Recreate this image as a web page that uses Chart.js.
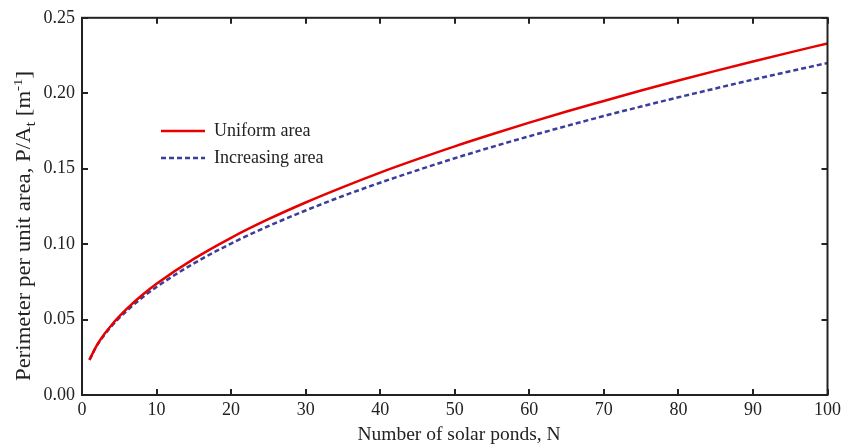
<!DOCTYPE html>
<html>
<head>
<meta charset="utf-8">
<script src="https://cdn.jsdelivr.net/npm/chart.js@4"></script>
<style>
  html, body { margin: 0; padding: 0; background: #fff; }
  #wrap { width: 845px; height: 448px; }
</style>
</head>
<body>
<div id="wrap"><canvas id="chart" width="845" height="448"></canvas></div>
<script>
// values
var pondCount = [1, 2, 3, 4, 5, 6, 8, 10, 15, 20, 25, 30, 35, 40, 45, 50, 55, 60, 65, 70, 75, 80, 85, 90, 95, 100];
var uniformArea = [0.0233, 0.0330, 0.0404, 0.0466, 0.0521, 0.0571, 0.0659, 0.0737, 0.0902, 0.1042, 0.1165, 0.1276, 0.1378, 0.1474, 0.1563, 0.1648, 0.1728, 0.1805, 0.1879, 0.1949, 0.2018, 0.2084, 0.2148, 0.2210, 0.2271, 0.2330];
var increasingArea = [0.0233, 0.0327, 0.0398, 0.0458, 0.0511, 0.0558, 0.0642, 0.0716, 0.0872, 0.1004, 0.1119, 0.1223, 0.1319, 0.1407, 0.1490, 0.1569, 0.1644, 0.1715, 0.1783, 0.1849, 0.1912, 0.1973, 0.2032, 0.2090, 0.2146, 0.2200];
var seriesNames = ['Uniform area', 'Increasing area'];
var xTitle = 'Number of solar ponds, N';

var SERIF = '"Liberation Serif", "Times New Roman", serif';
var INK = '#222';

function toPoints(ys) {
    return pondCount.map(function (n, i) { return { x: n, y: ys[i] }; });
}

// frame, inward ticks, titles and legend
var decorations = {
    id: 'decorations',
    afterDraw: function (chart) {
        var ctx = chart.ctx;
        var a = chart.chartArea;
        var xs = chart.scales.x;
        var ys = chart.scales.y;
        ctx.save();
        ctx.strokeStyle = INK;
        ctx.lineWidth = 2;
        ctx.strokeRect(a.left, a.top, a.right - a.left, a.bottom - a.top);
        var len = 6;
        ctx.beginPath();
        xs.ticks.forEach(function (t) {
            var px = Math.round(xs.getPixelForValue(t.value));
            ctx.moveTo(px, a.bottom); ctx.lineTo(px, a.bottom - len);
            ctx.moveTo(px, a.top); ctx.lineTo(px, a.top + len);
        });
        ys.ticks.forEach(function (t) {
            var py = Math.round(ys.getPixelForValue(t.value));
            ctx.moveTo(a.left, py); ctx.lineTo(a.left + len, py);
            ctx.moveTo(a.right, py); ctx.lineTo(a.right - len, py);
        });
        ctx.stroke();

        // x title
        ctx.fillStyle = INK;
        ctx.font = '19.5px ' + SERIF;
        ctx.textAlign = 'center';
        ctx.textBaseline = 'alphabetic';
        ctx.fillText(xTitle, 459, 440);

        // y title with subscript / superscript, stretched a little along its length
        var parts = [
            { t: 'Perimeter per unit area, P/A', s: 20, dy: 0 },
            { t: 't', s: 15, dy: 5 },
            { t: ' [m', s: 20, dy: 0 },
            { t: '-1', s: 13, dy: -8 },
            { t: ']', s: 20, dy: 0 }
        ];
        var total = 0;
        parts.forEach(function (p) {
            ctx.font = p.s + 'px ' + SERIF;
            p.w = ctx.measureText(p.t).width;
            total += p.w;
        });
        ctx.translate(30, 226);
        ctx.rotate(-Math.PI / 2);
        ctx.scale(310 / total, 1);
        ctx.textAlign = 'left';
        var cx = -total / 2;
        parts.forEach(function (p) {
            ctx.font = p.s + 'px ' + SERIF;
            ctx.fillText(p.t, cx, p.dy);
            cx += p.w;
        });
        ctx.restore();

        // legend
        ctx.save();
        var rows = [131, 158];
        chart.data.datasets.forEach(function (ds, i) {
            ctx.strokeStyle = ds.borderColor;
            ctx.lineWidth = ds.borderWidth;
            ctx.setLineDash(ds.borderDash || []);
            ctx.beginPath();
            ctx.moveTo(161, rows[i]);
            ctx.lineTo(205, rows[i]);
            ctx.stroke();
            ctx.setLineDash([]);
            ctx.fillStyle = INK;
            ctx.font = '18px ' + SERIF;
            ctx.textAlign = 'left';
            ctx.textBaseline = 'middle';
            ctx.fillText(ds.label, 214, rows[i]);
        });
        ctx.restore();
    }
};

var ctx = document.getElementById('chart').getContext('2d');
new Chart(ctx, {
    type: 'line',
    data: {
        datasets: [{
            label: seriesNames[0],
            data: toPoints(uniformArea),
            borderColor: '#e60000',
            borderWidth: 2.5,
            pointRadius: 0,
            cubicInterpolationMode: 'monotone',
            fill: false
        }, {
            label: seriesNames[1],
            data: toPoints(increasingArea),
            borderColor: '#3a3d9c',
            borderWidth: 2.5,
            borderDash: [5, 3],
            pointRadius: 0,
            cubicInterpolationMode: 'monotone',
            fill: false
        }]
    },
    options: {
        responsive: false,
        animation: false,
        layout: { padding: { top: 15, right: 15, left: 0, bottom: 0 } },
        plugins: { legend: { display: false }, tooltip: { enabled: false } },
        scales: {
            x: {
                type: 'linear',
                min: 0, max: 100,
                ticks: { stepSize: 10, padding: 4, color: INK, font: { family: SERIF, size: 18 }, maxRotation: 0 },
                grid: { display: false, tickLength: 0 },
                border: { display: false },
                afterFit: function (s) { s.height = 53; }
            },
            y: {
                min: 0, max: 0.25,
                ticks: {
                    stepSize: 0.05, padding: 7, color: INK, font: { family: SERIF, size: 18 },
                    callback: function (v) { return v.toFixed(2); }
                },
                grid: { display: false, tickLength: 0 },
                border: { display: false },
                afterFit: function (s) { s.width = 82; }
            }
        }
    },
    plugins: [decorations]
});
</script>
</body>
</html>
